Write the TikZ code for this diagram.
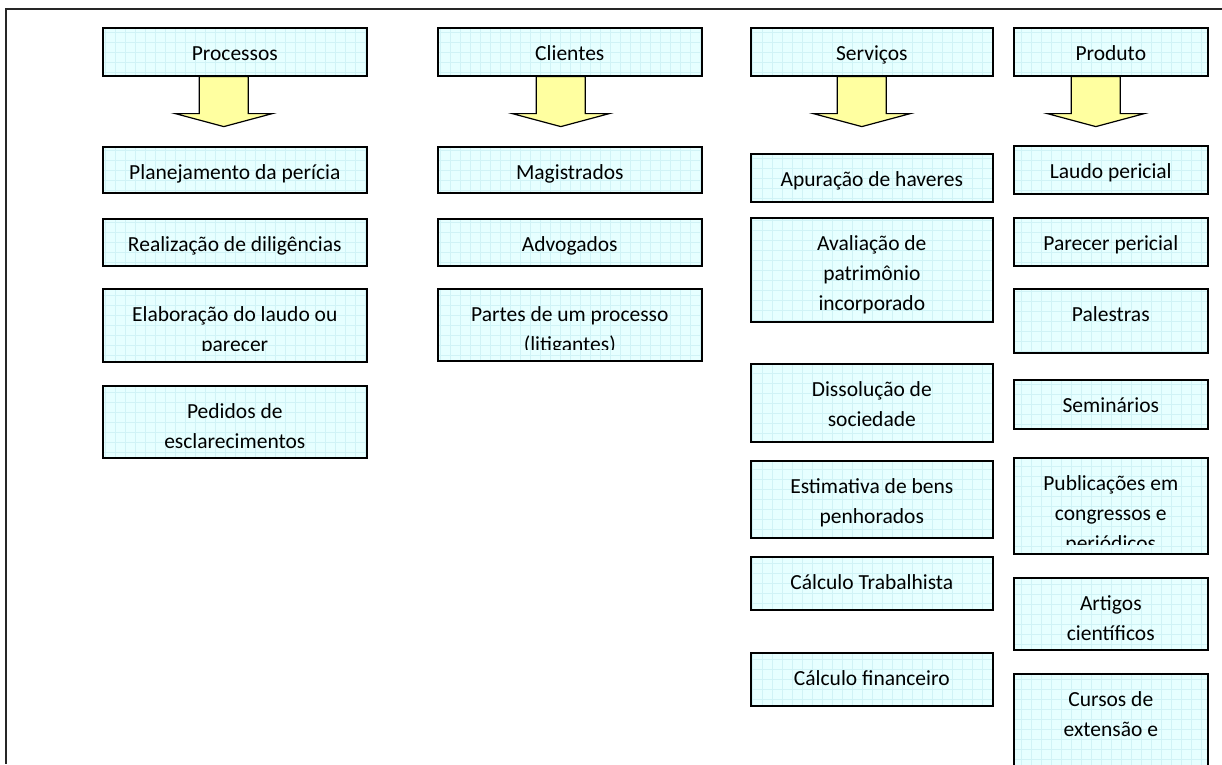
\documentclass[tikz,border=0pt]{standalone}
\usepackage{fontspec}
\setmainfont{Carlito}
\definecolor{azulclaro}{RGB}{230,255,255}
\definecolor{linhagrade}{RGB}{208,243,246}
\definecolor{amarelo}{RGB}{255,255,160}
\newcommand\topo{\rule{0pt}{21pt}}
\begin{document}
\begin{tikzpicture}[x=1pt,y=-1pt,
	caixa/.style={draw=black,line width=1.6pt,fill=azulclaro,anchor=north west,inner sep=0pt,
		path picture={\draw[grade] (path picture bounding box.south west) grid[step=10pt] (path picture bounding box.north east);}},
	grade/.style={draw=linhagrade,line width=0.5pt},
	rotulo/.style={anchor=north,inner sep=0pt,align=center,font=\fontsize{21.5}{30}\selectfont},
	seta/.style={draw=black,line width=1.2pt,fill=amarelo,line join=miter},
	moldura/.style={draw=black!85,line width=1.8pt},
	col1/.style={minimum width=264pt},
	col2/.style={minimum width=264pt},
	col3/.style={minimum width=242pt},
	col4/.style={minimum width=194pt}]
	\useasboundingbox (0,0) rectangle (1222,764);
	\draw[moldura] (1222,9) -- (6,9) -- (6,764);
	% cabecalhos
	\node[caixa,col1,minimum height=48pt] (processos) at (102,27) {};
	\node[caixa,col2,minimum height=48pt] (clientes) at (437,27) {};
	\node[caixa,col3,minimum height=48pt] (servicos) at (750,27) {};
	\node[caixa,col4,minimum height=48pt] (produto) at (1013,27) {};
	\node[rotulo] (processos-t) at ([yshift=-12pt]processos.north) {\topo Processos};
	\node[rotulo] (clientes-t) at ([yshift=-12pt]clientes.north) {\topo Clientes};
	\node[rotulo] (servicos-t) at ([yshift=-12pt]servicos.north) {\topo Serviços};
	\node[rotulo] (produto-t) at ([yshift=-12pt]produto.north) {\topo Produto};
	\foreach \n/\dx in {processos/-11,clientes/-9,servicos/-10,produto/-15}
		\draw[seta] ([xshift=\dx pt]\n.south) ++(-24.5,0) -- ++(0,37) -- ++(-24,0) -- ++(48.5,13)
			-- ++(48.5,-13) -- ++(-24,0) -- ++(0,-37) -- cycle;
	% processos
	\node[caixa,col1,minimum height=46pt] (planejamento) at (102,146) {};
	\node[rotulo] (planejamento-t) at ([yshift=-12pt]planejamento.north) {\topo Planejamento da perícia};
	\node[caixa,col1,minimum height=47pt] (realizacao) at (102,218) {};
	\node[rotulo] (realizacao-t) at ([yshift=-12pt]realizacao.north) {\topo Realização de diligências};
	\node[caixa,col1,minimum height=73pt] (elaboracao) at (102,288) {};
	\begin{scope}
		\clip (102,288) rectangle (366,350);
		\node[rotulo] (elaboracao-t) at ([yshift=-12pt]elaboracao.north) {\topo Elaboração do laudo ou\\parecer};
	\end{scope}
	\node[caixa,col1,minimum height=72pt] (pedidos) at (102,385) {};
	\node[rotulo] (pedidos-t) at ([yshift=-12pt]pedidos.north) {\topo Pedidos de\\esclarecimentos};
	% clientes
	\node[caixa,col2,minimum height=46pt] (magistrados) at (437,146) {};
	\node[rotulo] (magistrados-t) at ([yshift=-12pt]magistrados.north) {\topo Magistrados};
	\node[caixa,col2,minimum height=47pt] (advogados) at (437,218) {};
	\node[rotulo] (advogados-t) at ([yshift=-12pt]advogados.north) {\topo Advogados};
	\node[caixa,col2,minimum height=72pt] (partes) at (437,288) {};
	\begin{scope}
		\clip (437,288) rectangle (701,349);
		\node[rotulo] (partes-t) at ([yshift=-12pt]partes.north) {\topo Partes de um processo\\(litigantes)};
	\end{scope}
	% servicos
	\node[caixa,col3,minimum height=48pt] (apuracao) at (750,153) {};
	\node[rotulo] (apuracao-t) at ([yshift=-12pt]apuracao.north) {\topo Apuração de haveres};
	\node[caixa,col3,minimum height=104pt] (avaliacao) at (750,217) {};
	\node[rotulo] (avaliacao-t) at ([yshift=-12pt]avaliacao.north) {\topo Avaliação de\\patrimônio\\incorporado};
	\node[caixa,col3,minimum height=78pt] (dissolucao) at (750,363) {};
	\node[rotulo] (dissolucao-t) at ([yshift=-12pt]dissolucao.north) {\topo Dissolução de\\sociedade};
	\node[caixa,col3,minimum height=77pt] (estimativa) at (750,460) {};
	\node[rotulo] (estimativa-t) at ([yshift=-12pt]estimativa.north) {\topo Estimativa de bens\\penhorados};
	\node[caixa,col3,minimum height=53pt] (trabalhista) at (750,556) {};
	\node[rotulo] (trabalhista-t) at ([yshift=-12pt]trabalhista.north) {\topo Cálculo Trabalhista};
	\node[caixa,col3,minimum height=53pt] (financeiro) at (750,652) {};
	\node[rotulo] (financeiro-t) at ([yshift=-12pt]financeiro.north) {\topo Cálculo financeiro};
	% produto
	\node[caixa,col4,minimum height=48pt] (laudo) at (1013,145) {};
	\node[rotulo] (laudo-t) at ([yshift=-12pt]laudo.north) {\topo Laudo pericial};
	\node[caixa,col4,minimum height=48pt] (parecer) at (1013,217) {};
	\node[rotulo] (parecer-t) at ([yshift=-12pt]parecer.north) {\topo Parecer pericial};
	\node[caixa,col4,minimum height=64pt] (palestras) at (1013,288) {};
	\node[rotulo] (palestras-t) at ([yshift=-12pt]palestras.north) {\topo Palestras};
	\node[caixa,col4,minimum height=49pt] (seminarios) at (1013,379) {};
	\node[rotulo] (seminarios-t) at ([yshift=-12pt]seminarios.north) {\topo Seminários};
	\node[caixa,col4,minimum height=96pt] (publicacoes) at (1013,457) {};
	\begin{scope}
		\clip (1013,457) rectangle (1207,544);
		\node[rotulo] (publicacoes-t) at ([yshift=-12pt]publicacoes.north) {\topo Publicações em\\congressos e\\periódicos};
	\end{scope}
	\node[caixa,col4,minimum height=72pt] (artigos) at (1013,577) {};
	\node[rotulo] (artigos-t) at ([yshift=-12pt]artigos.north) {\topo Artigos\\científicos};
	\node[caixa,col4,minimum height=110pt] (cursos) at (1013,673) {};
	\node[rotulo] (cursos-t) at ([yshift=-12pt]cursos.north) {\topo Cursos de\\extensão e};
\end{tikzpicture}
\end{document}
